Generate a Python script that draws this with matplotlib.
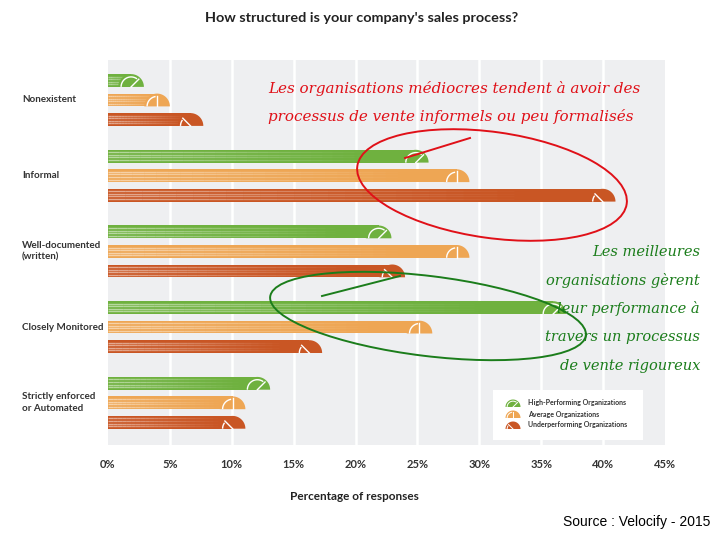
import numpy as np
import matplotlib.pyplot as plt
from matplotlib.patches import Polygon, Ellipse, Rectangle
from matplotlib.collections import LineCollection
from matplotlib.lines import Line2D
import matplotlib.transforms as mtransforms

# data
categories = ['Nonexistent', 'Informal', 'Well-documented\n(written)',
              'Closely Monitored', 'Strictly enforced\nor Automated']
series = ['High-Performing Organizations', 'Average Organizations',
          'Underperforming Organizations']
high = [2.9, 25.9, 22.9, 37.0, 13.1]
average = [5.0, 29.2, 29.2, 26.2, 11.1]
under = [7.7, 41.0, 24.0, 17.3, 11.1]
xticks = np.arange(0, 50, 5)

colors = ['#6fb13f', '#eea654', '#c95624']
needle_deg = [45, 90, 135]

red_note = ['Les organisations médiocres tendent à avoir des',
            'processus de vente informels ou peu formalisés']
green_note = ['Les meilleures', 'organisations gèrent', 'leur performance à',
              'travers un processus', 'de vente rigoureux']

plt.rcParams['font.family'] = ['Lato', 'DejaVu Sans']

W, H = 720, 540
fig = plt.figure(figsize=(W / 100, H / 100), dpi=100)
fig.patch.set_facecolor('white')

# axes box in pixels
ax_l, ax_r, ax_t, ax_b = 108, 665, 60, 445
ax = fig.add_axes([ax_l / W, 1 - ax_b / H, (ax_r - ax_l) / W, (ax_b - ax_t) / H])
ax.set_facecolor('#eeeff1')

group_px = 75.7
ytop = -(100 - ax_t) / group_px
ybot = (ax_b - 100) / group_px
ax.set_xlim(0, 45)
ax.set_ylim(ybot, ytop)
for s in ax.spines.values():
    s.set_visible(False)
ax.set_xticks(xticks)
ax.set_xticklabels([f'{t}%' for t in xticks], fontsize=8, fontweight='bold', color='#333333')
ax.tick_params(axis='x', length=0, pad=10)
ax.set_yticks([])
for t in xticks[1:-1]:
    ax.axvline(t, color='white', lw=1.8, zorder=0.5)

xpp = 45 / (ax_r - ax_l)
ypp = (ybot - ytop) / (ax_b - ax_t)
r_px = 12.8
rx, ry = r_px * xpp, r_px * ypp
off = 19.5 * ypp


def gauge(axis, cx, base, rx, ry, color, ang, trans, lw=1.0, z=3, up=-1):
    # up=-1 for an inverted y axis, +1 for a normal one
    t = np.linspace(0, np.pi, 60)
    pts = np.column_stack([cx + rx * np.cos(t), base + up * ry * np.sin(t)])
    axis.add_patch(Polygon(pts, closed=True, facecolor=color, edgecolor='none',
                           transform=trans, zorder=z))
    a = np.radians(ang)
    ta = np.linspace(a + 0.15, np.pi, 40)
    axis.plot(cx + 0.78 * rx * np.cos(ta), base + up * 0.78 * ry * np.sin(ta),
              color='white', lw=lw, transform=trans, zorder=z + 0.1, solid_capstyle='butt')
    axis.plot([cx, cx + 0.85 * rx * np.cos(a)], [base, base + up * 0.85 * ry * np.sin(a)],
              color='white', lw=lw, transform=trans, zorder=z + 0.1)


for j, (vals, color, ang) in enumerate(zip([high, average, under], colors, needle_deg)):
    for i, v in enumerate(vals):
        y = i + (j - 1) * off
        h = r_px * ypp
        ax.barh(y, v - rx, height=h, color=color, zorder=2)
        gauge(ax, v - rx, y + h / 2, rx, ry, color, ang, ax.transData)
        # faded light stripes on the bar
        n = 24
        xs = np.linspace(0, 0.8 * v, n + 1)
        segs, cols = [], []
        for dy in [-0.3, -0.1, 0.1, 0.3]:
            for k in range(n):
                segs.append([(xs[k], y + dy * h), (xs[k + 1], y + dy * h)])
                cols.append((1, 1, 1, 0.5 * (1 - k / n)))
        ax.add_collection(LineCollection(segs, colors=cols, linewidths=1.0, zorder=2.5))

# category labels
blend = mtransforms.blended_transform_factory(fig.transFigure, ax.transData)
for i, c in enumerate(categories):
    ax.text(22 / W, i, c, transform=blend, ha='left', va='center', fontsize=7.1,
            fontweight='bold', color='#333333', linespacing=1.4)

fig.text(362 / W, 1 - 18 / H, "How structured is your company's sales process?",
         ha='center', va='center', fontsize=10.4, fontweight='bold', color='#222222')
fig.text(354 / W, 1 - 496 / H, 'Percentage of responses', ha='center', va='center',
         fontsize=8.5, fontweight='bold', color='#222222')

# legend (drawn in inches so the icons stay round)
inch = fig.dpi_scale_trans
fig.add_artist(Rectangle((493 / 100, (H - 440) / 100), 150 / 100, 50 / 100,
                         facecolor='white', edgecolor='none', transform=inch, zorder=5))


class FigWrap:
    def __init__(self, f):
        self.f = f

    def add_patch(self, p):
        p.set_zorder(6)
        self.f.add_artist(p)

    def plot(self, xs, ys, **kw):
        kw['zorder'] = 7
        self.f.add_artist(Line2D(xs, ys, **kw))


fw = FigWrap(fig)
for k, (name, color, ang) in enumerate(zip(series, colors, needle_deg)):
    py = 403 + 11 * k
    gauge(fw, 513 / 100, (H - py - 4) / 100, 7.5 / 100, 7.5 / 100, color, ang, inch,
          lw=0.7, up=1)
    fig.text(528 / W, 1 - py / H, name, ha='left', va='center', fontsize=5,
             fontweight='bold', color='#333333', zorder=8)

# annotations
red = '#e01018'
green = '#1b7d1b'
for k, line in enumerate(red_note):
    fig.text(268 / W, 1 - (88 + 29 * k) / H, line, ha='left', va='center', fontsize=10.9,
             family='DejaVu Serif', style='italic', color=red)
for k, line in enumerate(green_note):
    fig.text(700 / W, 1 - (252 + 28.5 * k) / H, line, ha='right', va='center', fontsize=10.5,
             family='DejaVu Serif', style='italic', color=green)

fig.add_artist(Ellipse((492 / 100, (H - 185) / 100), 2.72, 1.06, angle=-8, fill=False,
                       edgecolor=red, lw=1.4, transform=inch, zorder=9))
fig.add_artist(Line2D([405 / 100, 470 / 100], [(H - 158) / 100, (H - 138) / 100],
                      color=red, lw=1.4, transform=inch, zorder=9))
fig.add_artist(Ellipse((428 / 100, (H - 316) / 100), 3.18, 0.8, angle=-7, fill=False,
                       edgecolor=green, lw=1.4, transform=inch, zorder=9))
fig.add_artist(Line2D([322 / 100, 400 / 100], [(H - 296) / 100, (H - 276) / 100],
                      color=green, lw=1.4, transform=inch, zorder=9))

fig.text(710 / W, 1 - 522 / H, 'Source : Velocify - 2015', ha='right', va='center',
         fontsize=10, family='Liberation Sans', color='black')

fig.savefig('out.png', dpi=100)
